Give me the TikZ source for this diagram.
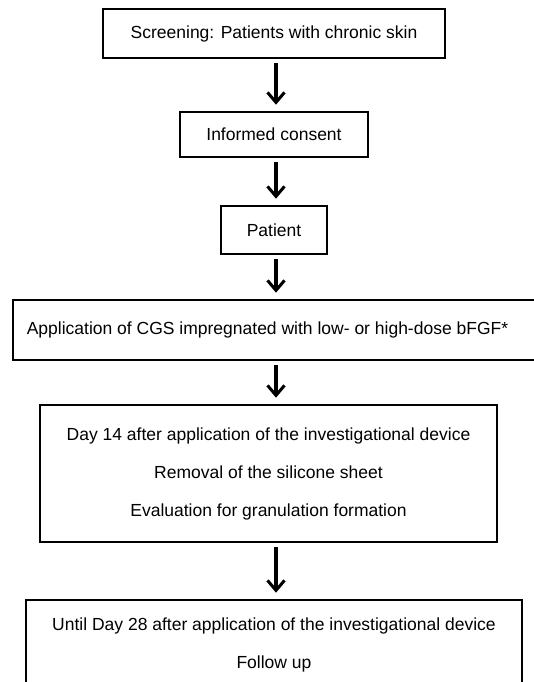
\documentclass[tikz,border=0pt]{standalone}
\usepackage{fontspec}
\setmainfont{Liberation Sans}
\usetikzlibrary{arrows.meta}
\begin{document}
\begin{tikzpicture}[x=1pt,y=-1pt,
  flowbox/.style={draw=black,line width=2.6pt,rectangle,inner sep=0pt,align=center,
    font=\fontsize{17.5}{38}\selectfont},
  flowarr/.style={line width=3.4pt,-{Straight Barb[length=10pt,width=17pt,line width=3pt]},
    shorten <=4pt, shorten >=6pt}]
\useasboundingbox (0,0) rectangle (533,682);
\coordinate (axis) at (276,0);
\node[flowbox,minimum width=342pt,minimum height=49pt] (b1) at (274,33.5) {Screening: Patients with chronic skin};
\node[flowbox,minimum width=188pt,minimum height=45pt] (b2) at (274,134.5) {Informed consent};
\node[flowbox,minimum width=106pt,minimum height=48pt] (b3) at (274,230) {Patient};
\node[flowbox,minimum width=527pt,minimum height=60pt] (b4) at (276.5,330) {\hspace*{-18pt}Application of CGS impregnated with low- or high-dose bFGF*};
\node[flowbox,minimum width=457pt,minimum height=137pt] (b5) at (268.5,473.5) {Day 14 after application of the investigational device\\Removal of the silicone sheet\\Evaluation for granulation formation};
\node[flowbox,minimum width=496pt,minimum height=90pt] (b6) at (274,645) {Until Day 28 after application of the investigational device\\Follow up};
\draw[flowarr] (b1.south -| axis) -- (b2.north -| axis);
\draw[flowarr] (b2.south -| axis) -- (b3.north -| axis);
\draw[flowarr] (b3.south -| axis) -- (b4.north -| axis);
\draw[flowarr] (b4.south -| axis) -- (b5.north -| axis);
\draw[flowarr] (b5.south -| axis) -- (b6.north -| axis);
\end{tikzpicture}
\end{document}
